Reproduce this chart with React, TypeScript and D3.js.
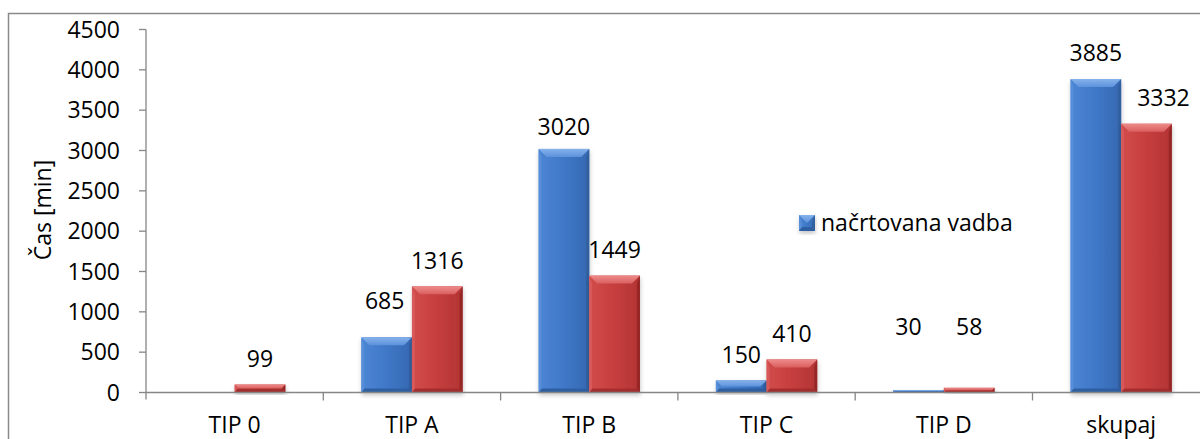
import React from "react";
import * as d3 from "d3";

const categories = ["TIP 0", "TIP A", "TIP B", "TIP C", "TIP D", "skupaj"];
const planned: (number | null)[] = [null, 685, 3020, 150, 30, 3885];
const actual: (number | null)[] = [99, 1316, 1449, 410, 58, 3332];
const yTicks = [0, 500, 1000, 1500, 2000, 2500, 3000, 3500, 4000, 4500];
const legendLabel = "načrtovana vadba";
const yTitle = "Čas [min]";

// layout tweaks for manually placed value labels (dx, dy)
const labelNudge: Record<string, [number, number]> = {
  "planned|TIP A": [-2, -10],
  "planned|TIP B": [0, 4],
  "planned|TIP D": [-10, -37],
  "actual|TIP D": [0, -35],
  "actual|skupaj": [17, 0],
};

const W = 1200;
const H = 439;
const FONT = "'Open Sans', 'Noto Sans', sans-serif";
const FS = 23;

const palettes = {
  planned: {
    faceL: "#4C86D4", faceM: "#3F78C7", faceR: "#3568B1",
    topA: "#86B2EC", topB: "#5C92DB", side: "#30609F", bottom: "#2F5FA2", left: "#5B92DC",
  },
  actual: {
    faceL: "#D24C4C", faceM: "#C63E3E", faceR: "#B33434",
    topA: "#EE8A8A", topB: "#DA5F5F", side: "#962828", bottom: "#A32E2E", left: "#D95E5E",
  },
};

type Key = "planned" | "actual";

function BevelBar({ x, y, w, h, k }: { x: number; y: number; w: number; h: number; k: Key }) {
  const p = palettes[k];
  const bt = Math.min(8, h / 2, w / 2);
  const bs = Math.min(3, h / 2, w / 2);
  const bb = Math.min(4, h / 2);
  const pts = (a: number[][]) => a.map((q) => q.join(",")).join(" ");
  return (
    <g filter="url(#shadow)">
      <rect x={x} y={y} width={w} height={h} fill={`url(#face-${k})`} />
      <polygon points={pts([[x, y + h], [x + w, y + h], [x + w - bs, y + h - bb], [x + bs, y + h - bb]])} fill={p.bottom} />
      <polygon points={pts([[x, y], [x + bs, y + bt], [x + bs, y + h - bb], [x, y + h]])} fill={p.left} opacity={0.7} />
      <polygon points={pts([[x + w, y], [x + w - bs, y + bt], [x + w - bs, y + h - bb], [x + w, y + h]])} fill={p.side} />
      <polygon points={pts([[x, y], [x + w, y], [x + w - bt, y + bt], [x + bt, y + bt]])} fill={`url(#top-${k})`} />
    </g>
  );
}

export default function App() {
  const x0 = 146;
  const bw = 177.3;
  const x = d3.scaleBand<string>().domain(categories).range([x0, x0 + bw * categories.length]).padding(0);
  const band = x.bandwidth();
  const x1 = d3
    .scaleBand<string>()
    .domain(["planned", "actual"])
    .range([(band * 0.75) / 3.5, band - (band * 0.75) / 3.5])
    .padding(0);
  const y = d3.scaleLinear().domain([0, 4500]).range([392.5, 29.5]);
  const y0 = y(0);
  const half = FS * 0.357;

  const series: { k: Key; vals: (number | null)[] }[] = [
    { k: "planned", vals: planned },
    { k: "actual", vals: actual },
  ];

  return (
    <svg width={W} height={H} style={{ position: "absolute", left: 0, top: 0 }} fontFamily={FONT}>
      <defs>
        {(["planned", "actual"] as Key[]).map((k) => (
          <React.Fragment key={k}>
            <linearGradient id={`face-${k}`} x1="0" x2="1" y1="0" y2="0">
              <stop offset="0" stopColor={palettes[k].faceL} />
              <stop offset="0.5" stopColor={palettes[k].faceM} />
              <stop offset="1" stopColor={palettes[k].faceR} />
            </linearGradient>
            <linearGradient id={`top-${k}`} x1="0" x2="0" y1="0" y2="1">
              <stop offset="0" stopColor={palettes[k].topA} />
              <stop offset="1" stopColor={palettes[k].topB} />
            </linearGradient>
          </React.Fragment>
        ))}
        <filter id="shadow" x="-20%" y="-20%" width="140%" height="140%">
          <feDropShadow dx="0.5" dy="2.5" stdDeviation="2" floodColor="#000" floodOpacity="0.22" />
        </filter>
      </defs>

      <rect x={8.5} y={13.5} width={1300} height={600} fill="#fff" stroke="#8a8a8a" strokeWidth={1.5} />

      {/* y axis */}
      <line x1={x0} x2={x0} y1={y(4500)} y2={y0 + 7} stroke="#868686" strokeWidth={1.3} />
      {yTicks.map((t) => (
        <g key={t}>
          <line x1={x0 - 7} x2={x0} y1={y(t)} y2={y(t)} stroke="#868686" strokeWidth={1.3} />
          <text x={120} y={y(t) + half} textAnchor="end" fontSize={FS} fill="#000">
            {t}
          </text>
        </g>
      ))}

      {/* bars */}
      {series.map((s) =>
        s.vals.map((v, i) => {
          if (v == null) return null;
          const c = categories[i];
          const bx = (x(c) as number) + (x1(s.k) as number);
          const by = y(v);
          return <BevelBar key={s.k + c} x={bx} y={by} w={x1.bandwidth()} h={y0 - by} k={s.k} />;
        })
      )}

      {/* x axis */}
      <line x1={x0} x2={W + 20} y1={y0} y2={y0} stroke="#868686" strokeWidth={1.3} />
      {categories.map((c) => (
        <line key={"t" + c} x1={x(c)! + band} x2={x(c)! + band} y1={y0} y2={y0 + 8} stroke="#868686" strokeWidth={1.3} />
      ))}
      {categories.map((c) => (
        <text key={"l" + c} x={x(c)! + band / 2} y={432.5} textAnchor="middle" fontSize={FS} fill="#000">
          {c}
        </text>
      ))}

      {/* value labels */}
      {series.map((s) =>
        s.vals.map((v, i) => {
          if (v == null) return null;
          const c = categories[i];
          const nudge = labelNudge[`${s.k}|${c}`] || [0, 0];
          const cx = (x(c) as number) + (x1(s.k) as number) + x1.bandwidth() / 2 + nudge[0];
          const cy = y(v) - 26 + nudge[1];
          return (
            <text key={"v" + s.k + c} x={cx} y={cy + half} textAnchor="middle" fontSize={FS} fill="#000">
              {v}
            </text>
          );
        })
      )}

      {/* legend */}
      <BevelBar x={799} y={215} w={16} h={16} k="planned" />
      <text x={821} y={223 + half} fontSize={FS} fill="#000">
        {legendLabel}
      </text>

      {/* y title */}
      <text transform="translate(51,210) rotate(-90)" textAnchor="middle" fontSize={FS} fill="#000">
        {yTitle}
      </text>
    </svg>
  );
}
